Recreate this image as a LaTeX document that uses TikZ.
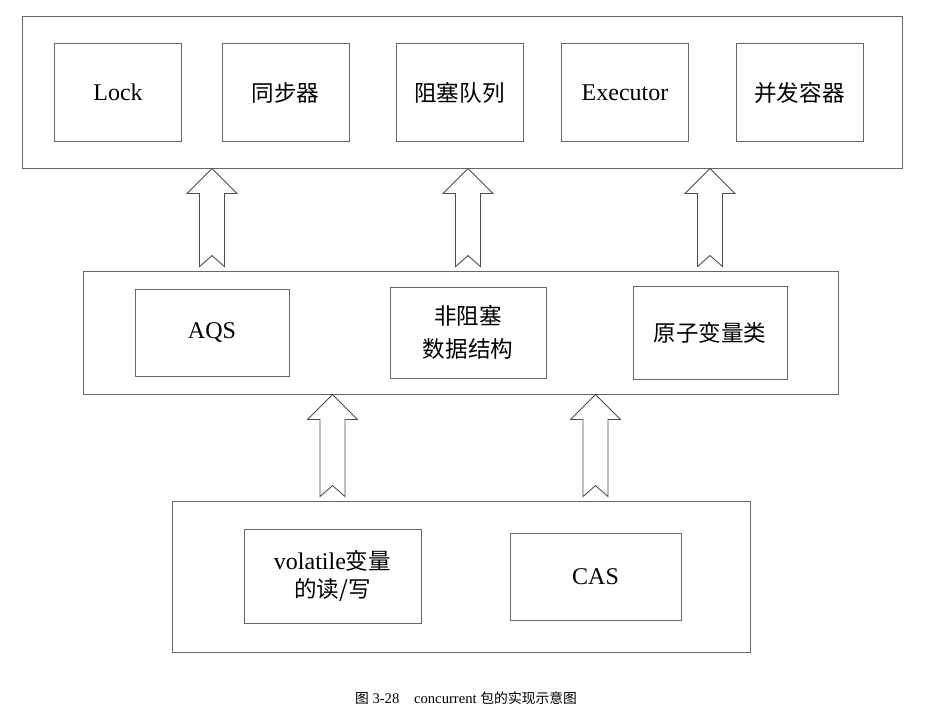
\documentclass[tikz,border=0pt]{standalone}
\usepackage{fontspec}
\setmainfont{Liberation Serif}
\newfontfamily\cjk[Scale=0.94]{Noto Sans CJK SC}
\usetikzlibrary{calc}

\tikzset{
    layerbox/.style={draw=black!60, line width=0.65pt, rectangle},
    partbox/.style={draw=black!60, line width=0.65pt, rectangle, align=center, minimum width=95.25pt, minimum height=73.5pt, font=\fontsize{18}{25}\selectfont},
    hollow/.style={draw=black!70, line width=0.65pt, fill=white, line join=miter}
}

% hollow up arrow: #1 gives x, from top of #2 to bottom of #3
\newcommand{\blockarrow}[3]{%
    \draw[hollow] (#3.south -| #1) -- ++(25,25) -- ++(-12.5,0)
        -- ($(#2.north -| #1)+(12.5,-4)$) -- ++(-12.5,-11) -- ++(-12.5,11)
        -- ($(#3.south -| #1)+(-12.5,25)$) -- ++(-12.5,0) -- cycle;}

\begin{document}
\begin{tikzpicture}[x=0.75pt, y=-0.75pt]
            \useasboundingbox (0,0) rectangle (934,724);

            % top layer
            \node[layerbox, minimum width=660pt, minimum height=114pt] (toplayer) at (462,92) {};
            \node[partbox] (lock) at (118,92.5) {Lock};
            \node[partbox] (sync) at (285.5,92.5) {\cjk 同步器};
            \node[partbox] (queue) at (459.5,92.5) {\cjk 阻塞队列};
            \node[partbox] (executor) at (625,92.5) {Executor};
            \node[partbox] (container) at (799.5,92.5) {\cjk 并发容器};

            % middle layer
            \node[layerbox, minimum width=566.25pt, minimum height=92.25pt] (midlayer) at (460.5,332.5) {};
            \node[partbox, minimum width=115.5pt, minimum height=65.25pt] (aqs) at (212,332.5) {AQS};
            \node[partbox, minimum width=117pt, minimum height=68.25pt] (nbds) at (468,332.5) {\cjk 非阻塞\\\cjk 数据结构};
            \node[partbox, minimum width=115.5pt, minimum height=69.75pt] (atomic) at (710,332.5) {\cjk 原子变量类};

            % bottom layer
            \node[layerbox, minimum width=433.5pt, minimum height=113.25pt] (lowlayer) at (461,576.5) {};
            \node[partbox, minimum width=132.75pt, minimum height=70.5pt, font=\fontsize{18}{21}\selectfont] (volatile) at (332.5,576) {volatile{\cjk 变量}\\\cjk 的读/写};
            \node[partbox, minimum width=128.25pt, minimum height=65.25pt] (cas) at (595.5,576.5) {CAS};

            \blockarrow{aqs}{midlayer}{toplayer}
            \blockarrow{nbds}{midlayer}{toplayer}
            \blockarrow{atomic}{midlayer}{toplayer}
            \blockarrow{volatile}{lowlayer}{midlayer}
            \blockarrow{cas}{lowlayer}{midlayer}

            \node (caption) at (466,698) {\fontsize{11}{13}\selectfont{\cjk 图} 3-28\quad concurrent {\cjk 包的实现示意图}};
        \end{tikzpicture}
\end{document}
